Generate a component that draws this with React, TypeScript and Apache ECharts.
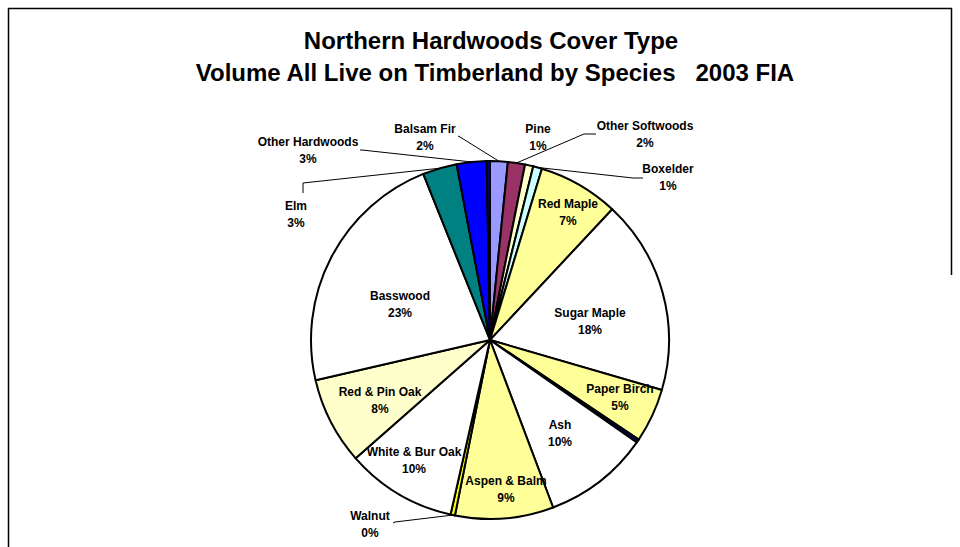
import React, { useEffect, useRef } from "react";
import * as echarts from "echarts";

// ---- data (clockwise from 12 o'clock) ----
const species = [
  "Balsam Fir",
  "Other Softwoods",
  "Pine",
  "Boxelder",
  "Red Maple",
  "Sugar Maple",
  "Paper Birch",
  "Minor species A",
  "Ash",
  "Aspen & Balm",
  "Walnut",
  "White & Bur Oak",
  "Red & Pin Oak",
  "Basswood",
  "Elm",
  "Other Hardwoods",
  "Minor species B",
];
const sharePct = [1.6, 1.55, 0.75, 0.8, 7.3, 17.6, 4.9, 0.3, 9.6, 8.9, 0.4, 10.0, 7.9, 22.6, 3.1, 2.7, 0.3];
const sliceColors = [
  "#9999FF", "#993366", "#FFFFCC", "#CCFFFF", "#FFFF99", "#FFFFFF", "#FFFF99", "#000080",
  "#FFFFFF", "#FFFF99", "#FFFF00", "#FFFFFF", "#FFFFCC", "#FFFFFF", "#008080", "#0000FF", "#000080",
];
const labelShown = [true, true, true, true, true, true, true, false, true, true, true, true, true, true, true, true, false];

const titleLines = ["Northern Hardwoods Cover Type", "Volume All Live on Timberland by Species   2003 FIA"];

// ---- layout (positions / styles) ----
const CX = 490;
const CY = 340;
const R = 179;
type Spot = { at: [number, number]; from?: [number, number][] } | null;
const labelSpots: Spot[] = [
  { at: [425, 137], from: [[458, 136], [460, 137]] },
  { at: [645, 134], from: [[596, 134], [584, 134]] },
  { at: [538, 137] },
  { at: [668, 177], from: [[643, 178], [633, 178]] },
  { at: [568, 212] },
  { at: [590, 321] },
  { at: [620, 397] },
  null,
  { at: [560, 433] },
  { at: [506, 489] },
  { at: [370, 524], from: [[393, 523], [395, 522]] },
  { at: [414, 460] },
  { at: [380, 400] },
  { at: [400, 304] },
  { at: [296, 214], from: [[303, 193], [303, 183]] },
  { at: [308, 150], from: [[360, 150], [362, 150]] },
  null,
];

export default function App() {
  const ref = useRef<HTMLDivElement>(null);
  useEffect(() => {
    if (!ref.current) return;
    const chart = echarts.init(ref.current, undefined, { renderer: "svg" });
    const total = sharePct.reduce((a, b) => a + b, 0);
    const arcPoint = (i: number): [number, number] => {
      let start = 0;
      for (let k = 0; k < i; k++) start += sharePct[k];
      const mid = ((start + sharePct[i] / 2) / total) * Math.PI * 2;
      return [CX + R * Math.sin(mid), CY - R * Math.cos(mid)];
    };
    const font = "'Liberation Sans', Arial, sans-serif";
    chart.setOption({
      animation: false,
      backgroundColor: "#ffffff",
      graphic: [
        {
          type: "polyline",
          shape: { points: [[8.5, 547], [8.5, 8.5], [951.5, 8.5], [951.5, 275]] },
          style: { stroke: "#000", lineWidth: 1.5, fill: null },
          silent: true,
        },
        {
          type: "text",
          x: 491,
          y: 40,
          style: { text: titleLines[0], font: `bold 24px ${font}`, fill: "#000", align: "center", verticalAlign: "middle" },
        },
        {
          type: "text",
          x: 495,
          y: 72,
          style: { text: titleLines[1], font: `bold 24px ${font}`, fill: "#000", align: "center", verticalAlign: "middle" },
        },
      ],
      series: [
        {
          type: "pie",
          center: [CX, CY],
          radius: R,
          startAngle: 90,
          clockwise: true,
          avoidLabelOverlap: false,
          minAngle: 0,
          itemStyle: { borderColor: "#000", borderWidth: 2 },
          emphasis: { disabled: true },
          label: {
            show: true,
            position: "outside",
            color: "#000",
            fontFamily: font,
            fontWeight: "bold",
            fontSize: 12,
            lineHeight: 17,
            align: "center",
            formatter: (p: any) => `${p.name}\n${Math.round((p.value / total) * 100)}%`,
          },
          labelLine: { show: true, lineStyle: { color: "#000", width: 1 } },
          labelLayout: (p: any) => {
            const spot = labelSpots[p.dataIndex];
            if (!spot) return {};
            const out: any = { x: spot.at[0], y: spot.at[1], align: "center", verticalAlign: "middle" };
            if (spot.from) out.labelLinePoints = [spot.from[0], spot.from[1], arcPoint(p.dataIndex)];
            return out;
          },
          data: species.map((name, i) => {
            const spot = labelSpots[i];
            return {
              name,
              value: sharePct[i],
              itemStyle: { color: sliceColors[i] },
              label: { show: labelShown[i] },
              labelLine: { show: !!(spot && spot.from) },
            };
          }),
        },
      ],
    });
    return () => chart.dispose();
  }, []);
  return (
    <div
      ref={ref}
      style={{ position: "fixed", left: 0, top: 0, width: 960, height: 547, background: "#fff" }}
    />
  );
}
